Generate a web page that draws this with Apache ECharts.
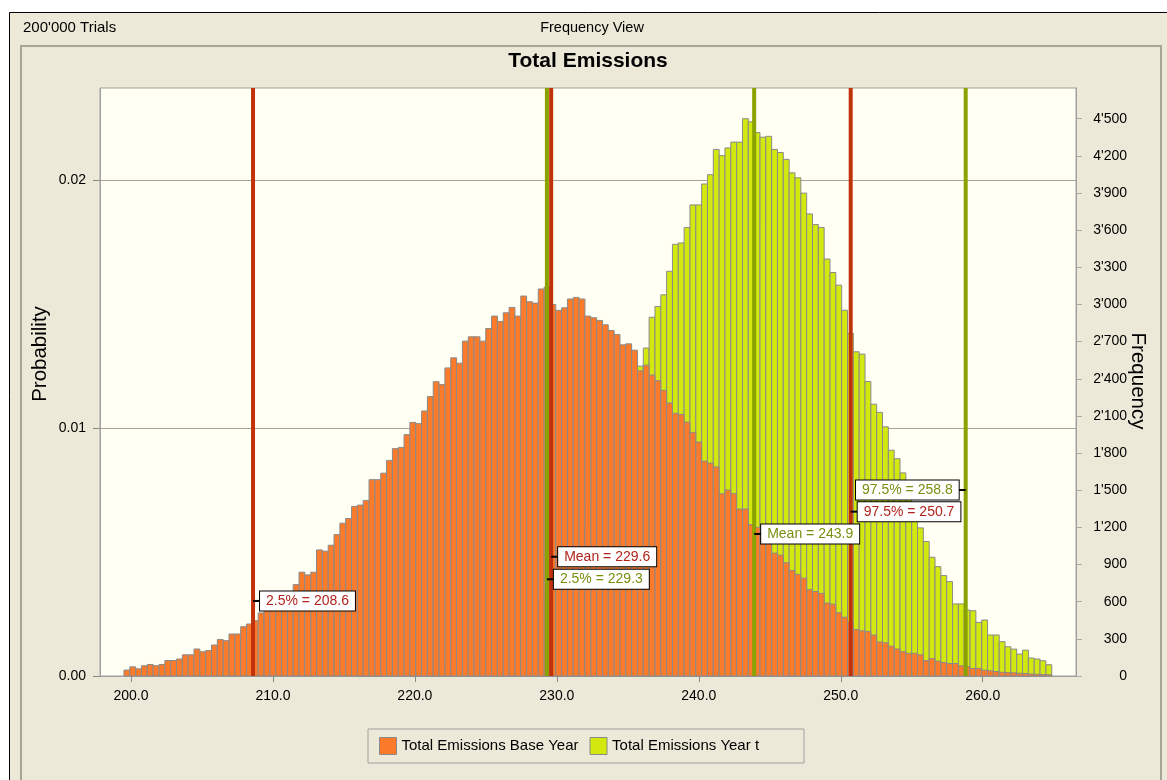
<!DOCTYPE html>
<html>
<head>
<meta charset="utf-8">
<script src="https://cdn.jsdelivr.net/npm/echarts@6.0.0/dist/echarts.min.js"></script>
<style>
  html, body { margin: 0; padding: 0; background: #fff; }
  #main { width: 1167px; height: 780px; }
</style>
</head>
<body>
<div id="main"></div>
<script>
// ---- data ----
const trials = 200000
const binLo = 199.51
const binHi = 264.86

// frequency per bin (159 bins)
const baseYear = [
  48, 74, 58, 83, 93, 83, 93, 125, 125, 137,
  171, 171, 218, 196, 206, 250, 295, 285, 339, 339,
  398, 420, 446, 509, 554, 581, 622, 681, 681, 738,
  838, 816, 838, 1018, 1008, 1056, 1142, 1234, 1272, 1369,
  1380, 1418, 1585, 1585, 1638, 1741, 1836, 1846, 1949, 2048,
  2038, 2140, 2256, 2377, 2353, 2488, 2569, 2526, 2704, 2739,
  2739, 2704, 2806, 2906, 2863, 2933, 2976, 2906, 3068, 3022,
  3011, 3125, 3140, 3000, 2952, 2973, 3044, 3057, 3044, 2906,
  2893, 2871, 2836, 2790, 2758, 2674, 2682, 2631, 2464, 2510,
  2430, 2385, 2307, 2205, 2121, 2112, 2050, 1967, 1889, 1735,
  1719, 1688, 1472, 1502, 1472, 1348, 1348, 1223, 1200, 1146,
  1100, 992, 976, 914, 852, 821, 790, 697, 682, 667,
  589, 580, 511, 475, 434, 375, 365, 360, 330, 275,
  268, 240, 218, 196, 183, 183, 171, 124, 140, 120,
  109, 101, 101, 82, 77, 61, 61, 47, 42, 36,
  30, 28, 26, 22, 20, 16, 14, 12, 10
]
const yearT = [
  0, 0, 0, 0, 0, 0, 0, 0, 0, 0,
  0, 0, 0, 0, 0, 0, 0, 0, 0, 0,
  0, 0, 0, 0, 0, 0, 0, 0, 0, 0,
  0, 0, 0, 0, 0, 0, 0, 0, 0, 0,
  1, 1, 2, 3, 4, 6, 8, 10, 13, 17,
  21, 26, 32, 39, 47, 57, 68, 81, 96, 113,
  133, 155, 180, 208, 240, 275, 315, 360, 410, 465,
  525, 590, 660, 740, 820, 910, 1000, 1100, 1200, 1310,
  1420, 1540, 1660, 1790, 1920, 2060, 2200, 2350, 2502, 2648,
  2897, 2984, 3078, 3268, 3486, 3497, 3621, 3804, 3804, 3973,
  4048, 4252, 4202, 4264, 4311, 4311, 4500, 4475, 4388, 4351,
  4358, 4252, 4227, 4172, 4063, 4023, 3899, 3731, 3645, 3621,
  3367, 3258, 3156, 2953, 2766, 2618, 2599, 2378, 2195, 2129,
  2012, 1823, 1755, 1640, 1480, 1340, 1196, 1086, 959, 883,
  811, 762, 582, 582, 533, 527, 433, 452, 331, 331,
  277, 236, 217, 177, 209, 145, 137, 123, 91
]

const xTicks = [200, 210, 220, 230, 240, 250, 260]
const probTicks = [0, 0.01, 0.02]
const freqTicks = [0, 300, 600, 900, 1200, 1500, 1800, 2100, 2400, 2700, 3000, 3300, 3600, 3900, 4200, 4500]

const baseStats = [['2.5%', 208.6], ['Mean', 229.6], ['97.5%', 250.7]]
const yearTStats = [['2.5%', 229.3], ['Mean', 243.9], ['97.5%', 258.8]]

// ---- layout ----
const xMin = 197.82, xMax = 266.57, freqMax = 4748
// height of each stat label (frequency units) and side of the line
const baseLabelPos = [[606, 1], [963, 1], [1327, 1]]
const yearTLabelPos = [[781, 1], [1147, 1], [1502, -1]]

const font = '"Liberation Sans", Arial, sans-serif'
const orange = '#FB7B2B', lime = '#D3E80E'

function fmtThousands(v) {
  if (v < 1000) return String(v)
  return Math.floor(v / 1000) + "'" + String(v % 1000).padStart(3, '0')
}

function histSeries(name, values, color) {
  let w = (binHi - binLo) / values.length
  return {
    name,
    type: 'custom',
    xAxisIndex: 0,
    yAxisIndex: 1,
    z: 2,
    itemStyle: { color, borderColor: '#8a8a8a', borderWidth: 1 },
    encode: { x: [0, 1], y: 2 },
    data: values.map((v, i) => [binLo + i * w, binLo + (i + 1) * w, v]),
    renderItem(params, api) {
      if (!api.value(2)) return
      let p0 = api.coord([api.value(0), api.value(2)])
      let p1 = api.coord([api.value(1), 0])
      return {
        type: 'rect',
        shape: { x: p0[0], y: p0[1], width: p1[0] - p0[0], height: p1[1] - p0[1] },
        style: { fill: color, stroke: '#8a8a8a', lineWidth: 1 }
      }
    }
  }
}

let markers = []
baseStats.forEach(([n, v], i) => markers.push({
  x: v, label: n + ' = ' + v.toFixed(1), y: baseLabelPos[i][0], side: baseLabelPos[i][1],
  line: '#C2320A', text: '#B0241C'
}))
yearTStats.forEach(([n, v], i) => markers.push({
  x: v, label: n + ' = ' + v.toFixed(1), y: yearTLabelPos[i][0], side: yearTLabelPos[i][1],
  line: '#8AA200', text: '#7A8E10'
}))

var myChart = echarts.init(document.getElementById('main'))

var option = {
  animation: false,
  backgroundColor: '#fff',
  title: [
    { text: fmtThousands(trials) + ' Trials', left: 23, top: 20, padding: 0,
      textStyle: { fontSize: 15, fontWeight: 'normal', color: '#000', fontFamily: font } },
    { text: 'Frequency View', left: 592, top: 20, padding: 0, textAlign: 'center',
      textStyle: { fontSize: 14.5, fontWeight: 'normal', color: '#000', fontFamily: font } },
    { text: 'Total Emissions', left: 588, top: 51, padding: 0, textAlign: 'center',
      textStyle: { fontSize: 21, fontWeight: 'bold', color: '#000', fontFamily: font } }
  ],
  graphic: [
    { type: 'rect', z: -100, silent: true,
      shape: { x: 9.5, y: 12.5, width: 1200, height: 800 },
      style: { fill: '#ECE9D8', stroke: '#000', lineWidth: 1 } },
    { type: 'rect', z: -99, silent: true,
      shape: { x: 21, y: 46, width: 1140, height: 800 },
      style: { fill: 'none', stroke: '#A7A596', lineWidth: 2 } },
    { type: 'text', x: 40, y: 354, rotation: Math.PI / 2, silent: true,
      style: { text: 'Probability', font: '20.5px ' + font, fill: '#000', align: 'center', verticalAlign: 'middle' } },
    { type: 'text', x: 1138, y: 381, rotation: -Math.PI / 2, silent: true,
      style: { text: 'Frequency', font: '20.5px ' + font, fill: '#000', align: 'center', verticalAlign: 'middle' } }
  ],
  legend: {
    left: 368, top: 729,
    padding: [8, 45, 8, 11],
    itemGap: 11,
    itemWidth: 17, itemHeight: 17,
    icon: 'rect',
    selectedMode: false,
    borderColor: '#A0A0A0', borderWidth: 1,
    itemStyle: { borderColor: '#8a8a8a', borderWidth: 1 },
    textStyle: { fontSize: 15, color: '#000', fontFamily: font },
    data: ['Total Emissions Base Year', 'Total Emissions Year t']
  },
  grid: {
    left: 100, top: 88, right: 91, bottom: 104,
    show: true, backgroundColor: '#FFFFF3', borderColor: '#A0A0A0', borderWidth: 1
  },
  xAxis: {
    type: 'value', min: xMin, max: xMax,
    axisLine: { lineStyle: { color: '#A0A0A0' } },
    axisTick: { customValues: xTicks, length: 6, lineStyle: { color: '#888' } },
    axisLabel: { customValues: xTicks, formatter: v => v.toFixed(1), color: '#000', fontSize: 14, fontFamily: font, margin: 13 },
    splitLine: { show: false }
  },
  yAxis: [
    {
      type: 'value', min: 0, max: freqMax / trials, interval: 0.01, position: 'left',
      axisLine: { show: true, lineStyle: { color: '#A0A0A0' } },
      axisTick: { show: true, customValues: probTicks, length: 7, lineStyle: { color: '#888' } },
      axisLabel: { customValues: probTicks, formatter: v => v.toFixed(2), color: '#000', fontSize: 14, fontFamily: font, margin: 14 },
      splitLine: { show: true, lineStyle: { color: '#A3A39A', width: 1 } }
    },
    {
      type: 'value', min: 0, max: freqMax, position: 'right',
      axisLine: { show: true, lineStyle: { color: '#A0A0A0' } },
      axisTick: { show: true, customValues: freqTicks, length: 6, lineStyle: { color: '#aaa' } },
      axisLabel: { customValues: freqTicks, formatter: v => fmtThousands(v), color: '#000', fontSize: 14, fontFamily: font,
        align: 'right', margin: 51 },
      splitLine: { show: false }
    }
  ],
  series: [
    histSeries('Total Emissions Year t', yearT, lime),
    histSeries('Total Emissions Base Year', baseYear, orange),
    {
      name: 'stats',
      type: 'custom',
      xAxisIndex: 0,
      yAxisIndex: 1,
      z: 3,
      data: markers.map(m => [m.x, m.y]),
      renderItem(params, api) {
        let m = markers[params.dataIndex]
        let bottom = api.coord([m.x, 0])
        let top = api.coord([m.x, freqMax])
        let at = api.coord([m.x, m.y])
        let tx = at[0] + m.side * 7
        return {
          type: 'group',
          children: [
            { type: 'rect', z2: 1,
              shape: { x: bottom[0] - 2, y: top[1], width: 4, height: bottom[1] - top[1] },
              style: { fill: m.line } },
            { type: 'line', z2: 5,
              shape: { x1: at[0], y1: at[1], x2: tx, y2: at[1] },
              style: { stroke: '#000', lineWidth: 2 } },
            { type: 'text', z2: 10, x: tx, y: at[1],
              style: {
                text: m.label, fill: m.text, font: '14px ' + font,
                align: m.side > 0 ? 'left' : 'right', verticalAlign: 'middle',
                backgroundColor: '#fff', borderColor: '#000', borderWidth: 1, padding: [3, 6, 2, 6]
              } }
          ]
        }
      }
    }
  ]
}

myChart.setOption(option)
</script>
</body>
</html>
